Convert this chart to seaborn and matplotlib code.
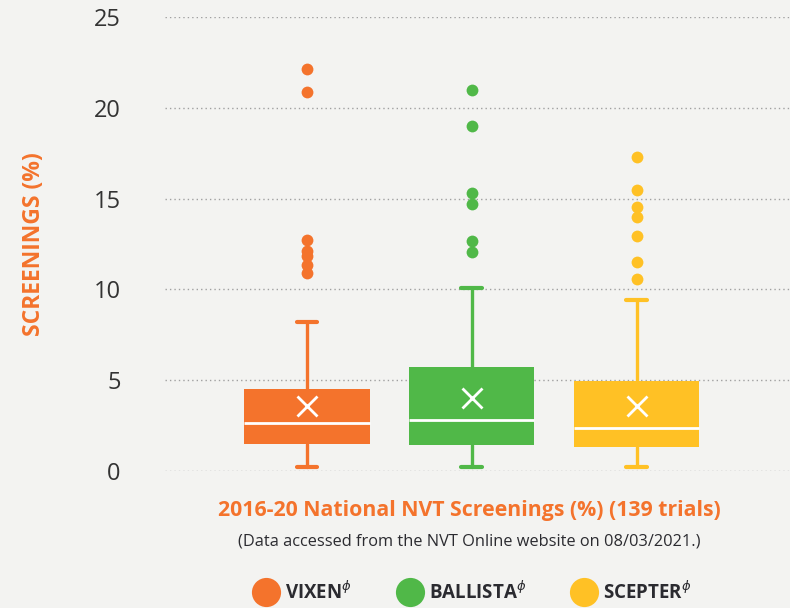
import matplotlib
matplotlib.use("Agg")

import matplotlib.pyplot as plt
from matplotlib.lines import Line2D
import seaborn as sns

# ── Data ─────────────────────────────────────────────────────────────────────
products = ["VIXEN", "BALLISTA", "SCEPTER"]
q1 = [1.50, 1.45, 1.34]
median = [2.66, 2.79, 2.35]
q3 = [4.50, 5.73, 4.96]
whisker_low = [0.20, 0.20, 0.20]
whisker_high = [8.22, 10.06, 9.40]
mean = [3.58, 4.04, 3.58]
outliers = [
    [22.15, 20.89, 12.72, 12.13, 11.84, 11.34, 10.88],
    [20.96, 19.02, 15.33, 14.68, 12.68, 12.06],
    [17.27, 15.49, 14.54, 14.00, 12.94, 11.51, 10.59],
]
y_ticks = [0, 5, 10, 15, 20, 25]

# ── Style ────────────────────────────────────────────────────────────────────
sns.set_theme(style="white")
plt.rcParams["font.family"] = ["Open Sans", "DejaVu Sans"]

_BG = "#f3f3f1"
_ORANGE = "#f4732c"
_COLORS = ["#f4732c", "#50b848", "#ffc125"]
_TEXT = "#2b2b30"

fig = plt.figure(figsize=(7.9, 6.08), dpi=100, facecolor=_BG)
ax = fig.add_axes([0.209, 0.2253, 0.791, 0.7467])
ax.set_facecolor(_BG)

for i, name in enumerate(products):
    stats = [{
        "label": name,
        "q1": q1[i],
        "med": median[i],
        "q3": q3[i],
        "whislo": whisker_low[i],
        "whishi": whisker_high[i],
        "mean": mean[i],
        "fliers": outliers[i],
    }]
    c = _COLORS[i]
    ax.bxp(
        stats,
        positions=[i],
        widths=0.76,
        capwidths=0.125,
        patch_artist=True,
        showmeans=True,
        boxprops=dict(facecolor=c, edgecolor="none"),
        medianprops=dict(color="white", linewidth=2),
        whiskerprops=dict(color=c, linewidth=2.4),
        capprops=dict(color=c, linewidth=3),
        meanprops=dict(marker="x", markeredgecolor="white", markersize=14,
                       markeredgewidth=2),
        flierprops=dict(marker="o", markerfacecolor=c, markeredgecolor="none",
                        markersize=8.5),
        manage_ticks=False,
    )

for art in ax.lines + ax.patches:
    art.set_clip_on(False)

ax.set_xlim(-0.86, 2.93)
ax.set_ylim(0, 25)
ax.set_yticks(y_ticks)
ax.set_xticks([])
ax.yaxis.grid(True, linestyle=(0, (1, 2.2)), color="#a0a0a0", linewidth=1.0)
ax.set_axisbelow(True)
ax.tick_params(axis="y", length=0, pad=32, labelsize=17, labelcolor="#333333")
for s in ax.spines.values():
    s.set_visible(False)

ax.set_ylabel("SCREENINGS (%)", color=_ORANGE, fontsize=16.5,
              fontweight="bold")
ax.yaxis.set_label_coords(-0.191, 0.5)

fig.text(0.594, 0.161, "2016-20 National NVT Screenings (%) (139 trials)",
         ha="center", va="center", fontsize=15.3, fontweight="bold",
         color=_ORANGE)
fig.text(0.594, 0.110, "(Data accessed from the NVT Online website on 08/03/2021.)",
         ha="center", va="center", fontsize=11.8, color=_TEXT)

handles = [
    Line2D([], [], marker="o", linestyle="none", markersize=21,
           markerfacecolor=c, markeredgecolor="none")
    for c in _COLORS
]
labels = [name + r"$^{\phi}$" for name in products]
leg = fig.legend(handles, labels, loc="center", ncol=3,
                 bbox_to_anchor=(0.599, 0.025), frameon=False,
                 handletextpad=0.4, columnspacing=2.5, handlelength=1.2,
                 prop={"weight": "bold", "size": 13.5})
for t in leg.get_texts():
    t.set_color(_TEXT)

fig.savefig("out.png", dpi=100, facecolor=_BG)
